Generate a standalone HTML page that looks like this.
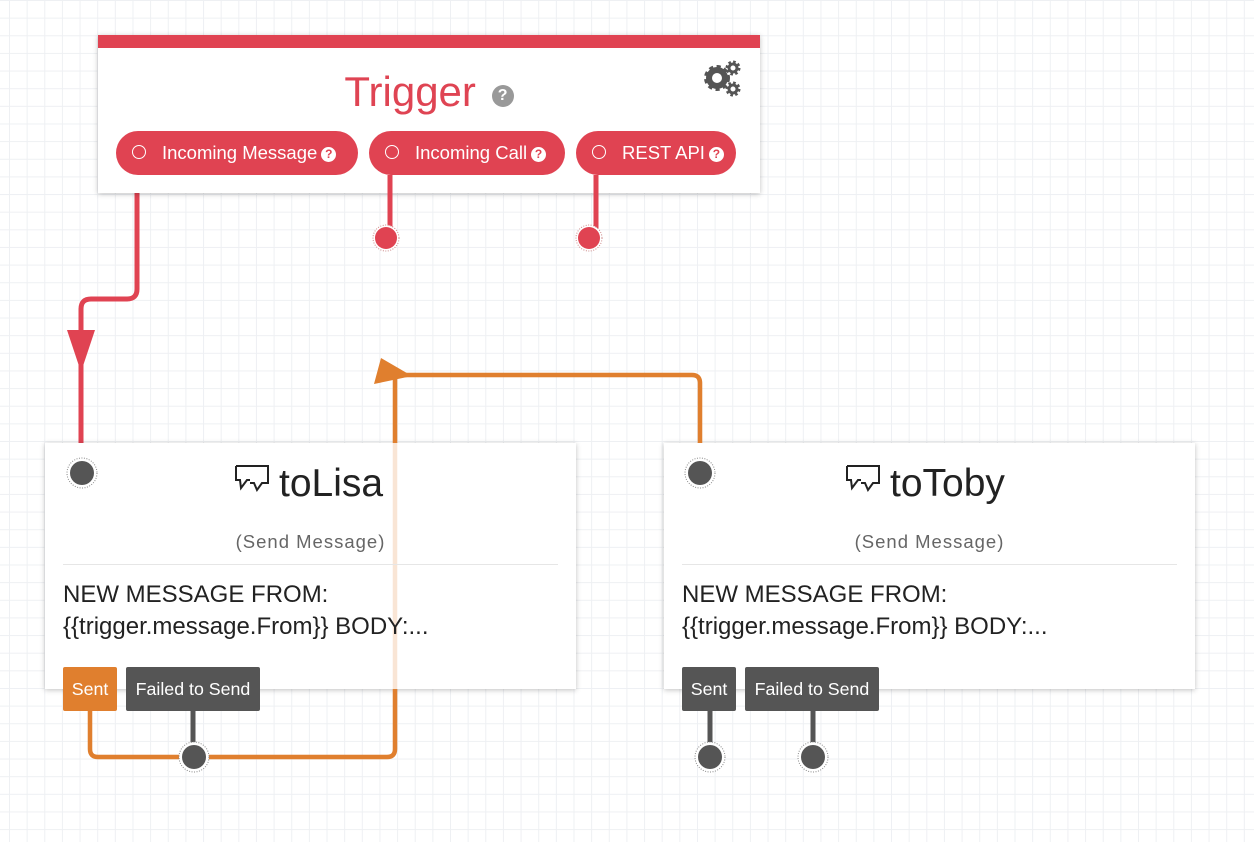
<!DOCTYPE html>
<html><head><meta charset="utf-8"><style>
html,body{margin:0;padding:0;}
body{width:1254px;height:842px;overflow:hidden;position:relative;background-color:#fff;
background-image:linear-gradient(to right,#eef0f3 1px,transparent 1px),linear-gradient(to bottom,#eef0f3 1px,transparent 1px);
background-size:17.65px 17.65px;background-position:9px 0px;font-family:"Liberation Sans",sans-serif;}
.card{position:absolute;background:#fff;box-shadow:0 1px 5px rgba(0,0,0,0.25);}
.pill{position:absolute;top:131px;height:44px;border-radius:22px;background:#e04352;color:#fff;font-size:18.5px;line-height:44px;box-sizing:border-box;padding-left:46px;white-space:nowrap;}
.pill:before{content:"";position:absolute;left:16px;top:14px;width:12px;height:12px;border:1.6px solid #fff;border-radius:50%;}
.q{display:inline-block;width:15px;height:15px;border-radius:50%;background:#fff;color:#e04352;font-size:12px;line-height:15px;text-align:center;font-weight:bold;vertical-align:1px;margin-left:4px;}
.btn{position:absolute;top:667px;height:44px;line-height:44px;color:#fff;font-size:17.8px;text-align:center;border-radius:2px;white-space:nowrap;}
.title{position:absolute;font-size:39px;color:#222;}
.sub{position:absolute;font-size:18.5px;color:#666;letter-spacing:1px;text-align:center;}
.body{position:absolute;font-size:24px;color:#222;line-height:32px;}
.sep{position:absolute;height:1px;background:#e6e6e6;}
</style></head><body>
<svg width="1254" height="842" style="position:absolute;left:0;top:0">
<path d="M137 175 V289 Q137 299 127 299 H91 Q81 299 81 309 V443" stroke="#e04352" stroke-width="5" fill="none"/>
<polygon points="67,330 95,330 81,372" fill="#e04352"/>
</svg>
<div class="card" style="left:98px;top:35px;width:662px;height:158px;">
  <div style="position:absolute;left:0;top:0;width:662px;height:13px;background:#e04352"></div>
  <div style="position:absolute;left:0;width:662px;top:32px;text-align:center;font-size:42px;color:#df4453;line-height:50px;">Trigger <span class="q" style="background:#999;color:#fff;width:22px;height:22px;line-height:22px;font-size:16px;vertical-align:6px">?</span></div>
  <svg style="position:absolute;left:600px;top:25px" width="50" height="40">
    <circle cx="19" cy="18" r="8" fill="none" stroke="#555" stroke-width="6"/>
    <circle cx="19" cy="18" r="11" fill="none" stroke="#555" stroke-width="4" stroke-dasharray="4 3.3"/>
    <circle cx="35" cy="8" r="4" fill="none" stroke="#555" stroke-width="3"/>
    <circle cx="35" cy="8" r="6" fill="none" stroke="#555" stroke-width="3" stroke-dasharray="2.5 2.2"/>
    <circle cx="35" cy="29" r="4" fill="none" stroke="#555" stroke-width="3"/>
    <circle cx="35" cy="29" r="6" fill="none" stroke="#555" stroke-width="3" stroke-dasharray="2.5 2.2"/>
  </svg>
</div>
<div class="pill" style="left:116px;width:242px;">Incoming Message<span class="q">?</span></div>
<div class="pill" style="left:369px;width:196px;">Incoming Call<span class="q">?</span></div>
<div class="pill" style="left:576px;width:160px;">REST API<span class="q">?</span></div>

<div class="card" style="left:45px;top:443px;width:531px;height:246px;"></div>
<div class="card" style="left:664px;top:443px;width:531px;height:246px;"></div>

<svg width="1254" height="842" style="position:absolute;left:0;top:0">
<path d="M390 175 V238 M596 175 V238" stroke="#e04352" stroke-width="5"/>
<circle cx="386" cy="238" r="13" fill="#fff" stroke="#c88" stroke-dasharray="1 1.5"/>
<circle cx="386" cy="238" r="11" fill="#e04352"/>
<circle cx="589" cy="238" r="13" fill="#fff" stroke="#c88" stroke-dasharray="1 1.5"/>
<circle cx="589" cy="238" r="11" fill="#e04352"/>
<path d="M90 711 V749 Q90 757 98 757 H387 Q395 757 395 749 V375 H692 Q700 375 700 383 V443" stroke="#e07f2e" stroke-width="4.5" fill="none" opacity="0.2"/>
<path d="M90 711 V749 Q90 757 98 757 H387 Q395 757 395 749 V689 M395 443 V375 H692 Q700 375 700 383 V443" stroke="#e07f2e" stroke-width="4.5" fill="none"/>
<polygon points="374,384 412,376 381,358" fill="#e07f2e"/>
<path d="M193 711 V757 M710 711 V757 M813 711 V757" stroke="#555" stroke-width="5"/>
<g fill="#fff" stroke="#888" stroke-dasharray="1 1.5">
<circle cx="82" cy="473" r="15"/><circle cx="700" cy="473" r="15"/>
<circle cx="194" cy="757" r="15"/><circle cx="710" cy="757" r="15"/><circle cx="813" cy="757" r="15"/></g>
<g fill="#555">
<circle cx="82" cy="473" r="12"/><circle cx="700" cy="473" r="12"/>
<circle cx="194" cy="757" r="12"/><circle cx="710" cy="757" r="12"/><circle cx="813" cy="757" r="12"/></g>
<g fill="none" stroke="#222" stroke-width="2">
<path d="M236 466 H268 V483 H262 L257 490 L254 483 H250 M236 466 V480 H240 L241 488 L247 480 H250"/>
<path d="M847 466 H879 V483 H873 L868 490 L865 483 H861 M847 466 V480 H851 L852 488 L858 480 H861"/>
</g>
</svg>
<div class="title" style="left:279px;top:462px;">toLisa</div>
<div class="sub" style="left:45px;width:531px;top:531px;">(Send Message)</div>
<div class="sep" style="left:63px;width:495px;top:564px;"></div>
<div class="body" style="left:63px;top:579px;">NEW MESSAGE FROM:<br>{{trigger.message.From}} BODY:...</div>
<div class="btn" style="left:63px;width:54px;background:#e07f2e;">Sent</div>
<div class="btn" style="left:126px;width:134px;background:#555;">Failed to Send</div>

<div class="title" style="left:890px;top:462px;">toToby</div>
<div class="sub" style="left:664px;width:531px;top:531px;">(Send Message)</div>
<div class="sep" style="left:682px;width:495px;top:564px;"></div>
<div class="body" style="left:682px;top:579px;">NEW MESSAGE FROM:<br>{{trigger.message.From}} BODY:...</div>
<div class="btn" style="left:682px;width:54px;background:#555;">Sent</div>
<div class="btn" style="left:745px;width:134px;background:#555;">Failed to Send</div>
</body></html>
